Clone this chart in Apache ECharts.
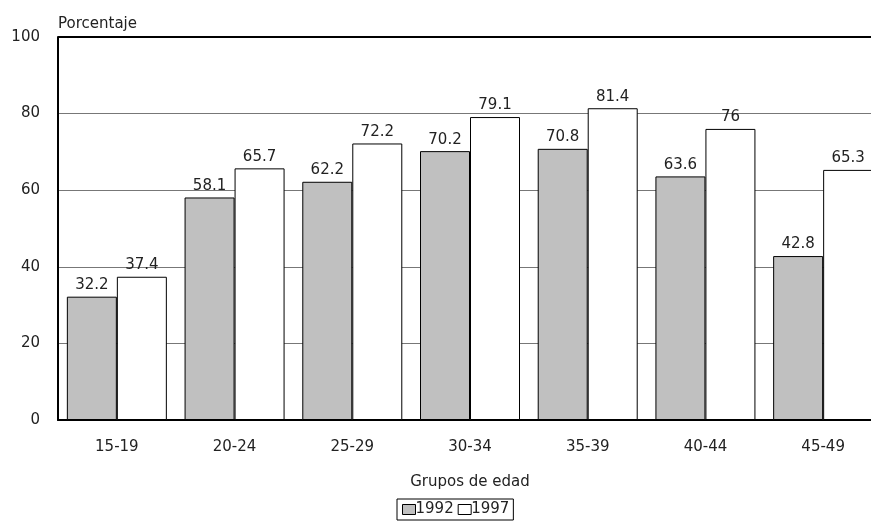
<html lang="es">
<head>
    <meta charset="UTF-8">
    <title>Porcentaje por grupos de edad</title>
    <script src="https://cdn.jsdelivr.net/npm/echarts@6.0.0/dist/echarts.min.js"></script>
    <style>
        html, body { margin: 0; padding: 0; background: #fff; overflow: hidden; }
        #my-chart { width: 871px; height: 521px; }
    </style>
</head>
<body>
    <div id="my-chart"></div>
    <script>
        const categories = ['15-19', '20-24', '25-29', '30-34', '35-39', '40-44', '45-49'];
        const values1992 = [32.2, 58.1, 62.2, 70.2, 70.8, 63.6, 42.8];
        const values1997 = [37.4, 65.7, 72.2, 79.1, 81.4, 76, 65.3];

        const font = 'DejaVu Sans';
        const textColor = '#222';
        const chart = echarts.init(document.getElementById('my-chart'));

        function barSeries(name, data, color) {
            return {
                name: name,
                type: 'bar',
                data: data,
                barGap: 0,
                barWidth: 50,
                itemStyle: { color: color, borderColor: '#000', borderWidth: 1 },
                label: {
                    show: true,
                    position: 'top',
                    distance: 4,
                    color: textColor,
                    fontFamily: font,
                    fontSize: 15
                },
                emphasis: { disabled: true }
            };
        }

        chart.setOption({
            animation: false,
            // the plot runs a little past the right edge of the picture
            grid: { left: 58, right: -11, top: 37, bottom: 101, outerBoundsMode: 'none' },
            legend: {
                data: ['1992', '1997'],
                left: 397,
                top: 499,
                padding: [3, 4, 3, 5],
                itemGap: 4,
                itemWidth: 13,
                itemHeight: 10,
                borderColor: '#000',
                borderWidth: 1,
                icon: 'rect',
                selectedMode: false,
                textStyle: { fontFamily: font, fontSize: 15, color: textColor, padding: [0, 0, 0, -5] },
                itemStyle: { borderColor: '#000', borderWidth: 1 }
            },
            xAxis: {
                type: 'category',
                data: categories,
                name: 'Grupos de edad',
                nameLocation: 'middle',
                nameGap: 55,
                nameTextStyle: { fontFamily: font, fontSize: 15, color: textColor },
                axisLine: { lineStyle: { color: '#000', width: 2 } },
                axisTick: { show: false },
                axisLabel: { fontFamily: font, fontSize: 15, color: textColor, margin: 20 }
            },
            yAxis: {
                type: 'value',
                min: 0,
                max: 100,
                interval: 20,
                name: 'Porcentaje',
                nameLocation: 'end',
                nameGap: 5,
                nameTextStyle: { fontFamily: font, fontSize: 15, color: textColor, align: 'left' },
                axisLine: { show: true, lineStyle: { color: '#000', width: 2 } },
                axisTick: { show: false },
                axisLabel: { fontFamily: font, fontSize: 15, color: textColor, margin: 18 },
                splitLine: { lineStyle: { color: '#777', width: 1 } }
            },
            series: [
                barSeries('1992', values1992, '#c0c0c0'),
                barSeries('1997', values1997, '#ffffff')
            ],
            graphic: [{
                type: 'line',
                shape: { x1: 58, y1: 37, x2: 871, y2: 37 },
                style: { stroke: '#000', lineWidth: 2 },
                z: 10
            }]
        });
    </script>
</body>
</html>
